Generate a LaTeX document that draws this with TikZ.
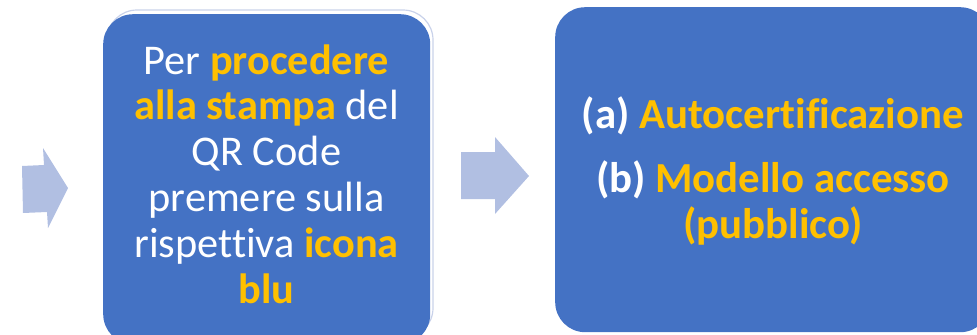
\documentclass[tikz,border=0pt]{standalone}
\usepackage{fontspec}
\setmainfont[Ligatures=NoCommon]{Carlito}
\definecolor{boxblue}{HTML}{4472C4}
\definecolor{gold}{HTML}{FFC000}
\definecolor{arrowblue}{HTML}{B1BFE2}
\definecolor{ghost}{HTML}{C9D2EA}
\begin{document}
\begin{tikzpicture}[x=1bp,y=-1bp,
  stepbox/.style={fill=boxblue,draw=none,rounded corners=30bp},
  flowarrow/.style={fill=arrowblue,draw=none},
  boxtext/.style={text=white,align=center,inner sep=0pt}]
\useasboundingbox (0,0) rectangle (977,334);
\clip (0,0) rectangle (977,334);
% left incoming arrow
\fill[flowarrow] (22,166) -- (44,165) -- (43,148) -- (68,188) -- (48,228) -- (47,212) -- (23,213) -- cycle;
% first box with faint ghost outline
\draw[ghost,line width=1.2bp,rounded corners=30bp] (107,10) rectangle (433,338);
\node[stepbox,minimum width=327bp,minimum height=330bp,anchor=north west] (b1) at (103,14) {};
\node[boxtext,font=\fontsize{42.5}{46}\selectfont] (t1) at (266.5,174)
 {Per \textbf{\color{gold}procedere}\\
  \textbf{\color{gold}alla stampa} del\\
  QR Code\\
  premere sulla\\
  rispettiva \textbf{\color{gold}icona}\\
  \textbf{\color{gold}blu}};
% middle arrow
\fill[flowarrow] (461,152) -- (495,152) -- (495,137) -- (529,176) -- (495,214) -- (495,199) -- (461,199) -- cycle;
% second box
\node[stepbox,minimum width=435bp,minimum height=325bp,anchor=north west] (b2) at (555,7) {};
\node[boxtext,font=\bfseries\fontsize{43}{46}\selectfont] (t2) at (773,171)
 {(a) {\color{gold}Autocertificazione}\\[18bp]
  (b) {\color{gold}Modello accesso}\\
  {\color{gold}(pubblico)}};
\end{tikzpicture}
\end{document}
